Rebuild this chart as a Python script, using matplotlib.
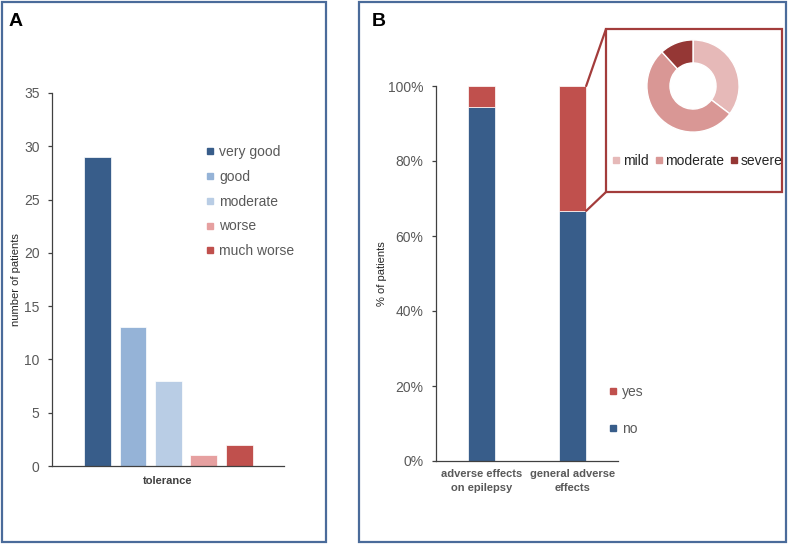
import matplotlib
matplotlib.use("Agg")
import matplotlib.pyplot as plt
from matplotlib.patches import Rectangle, ConnectionPatch
from matplotlib.lines import Line2D
from matplotlib.ticker import PercentFormatter

plt.rcParams['font.family'] = ['Liberation Sans', 'DejaVu Sans']

# ---- data ----
tol_categories = ["very good", "good", "moderate", "worse", "much worse"]
tol_values = [29, 13, 8, 1, 2]
tol_colors = ["#385d8a", "#95b3d7", "#b9cde5", "#e6a0a0", "#c0504d"]

ae_categories = ["adverse effects\non epilepsy", "general adverse\neffects"]
ae_no = [94.4, 66.7]
ae_yes = [5.6, 33.3]

sev_labels = ["mild", "moderate", "severe"]
sev_values = [6, 9, 2]
sev_colors = ["#e6b9b8", "#d99795", "#953735"]

W, H = 789, 545
fig = plt.figure(figsize=(W / 100, H / 100), dpi=100)


def fx(px):
    return px / W


def fy(py):
    return 1 - py / H


def axes_px(l, t, r, b):
    return fig.add_axes([fx(l), fy(b), (r - l) / W, (b - t) / H])


frame_col = "#4a6b9a"
fig.patches.append(Rectangle((fx(2), fy(542)), (326 - 2) / W, (542 - 2) / H,
                             transform=fig.transFigure, fill=False,
                             edgecolor=frame_col, linewidth=1.6))
fig.patches.append(Rectangle((fx(359), fy(542)), (786 - 359) / W, (542 - 2) / H,
                             transform=fig.transFigure, fill=False,
                             edgecolor=frame_col, linewidth=1.6))

tick_col = "#595959"
axis_col = "#404040"

# ---- Panel A ----
aL, aT, aR, aB = 52, 93, 284, 466
axA = axes_px(aL, aT, aR, aB)
xs = list(range(len(tol_values)))
axA.bar(xs, tol_values, width=0.76, color=tol_colors, edgecolor="white", linewidth=0.5)
axA.set_xlim(-1.29, 5.27)
axA.set_ylim(0, 35)
axA.set_yticks(range(0, 36, 5))
axA.set_xticks([])
for s in ["top", "right"]:
    axA.spines[s].set_visible(False)
for s in ["left", "bottom"]:
    axA.spines[s].set_color(axis_col)
    axA.spines[s].set_linewidth(0.9)
axA.tick_params(axis="y", direction="out", length=3, width=0.9, color=axis_col,
                labelcolor=tick_col, labelsize=10, pad=6)
axA.set_ylabel("number of patients", fontsize=8, color="#262626")
axA.yaxis.set_label_coords((21 - aL) / (aR - aL), 0.5)
axA.set_xlabel("tolerance", fontsize=8, fontweight="bold", color="#404040", labelpad=7)
handlesA = [Line2D([], [], marker="s", linestyle="none", markersize=5,
                   markerfacecolor=c, markeredgecolor=c) for c in tol_colors]
legA = fig.legend(handlesA, tol_categories, loc="upper left",
                  bbox_to_anchor=(fx(206), fy(145)), frameon=False, fontsize=10,
                  handlelength=0.6, handletextpad=0.35, labelspacing=0.78,
                  borderaxespad=0, borderpad=0)
for t in legA.get_texts():
    t.set_color(tick_col)
fig.text(fx(9), fy(21), "A", fontsize=14, fontweight="bold", ha="left", va="center")

# ---- Panel B ----
bL, bT, bR, bB = 436, 86, 618, 461
axB = axes_px(bL, bT, bR, bB)
xb = list(range(len(ae_categories)))
no_frac = [v / 100 for v in ae_no]
yes_frac = [v / 100 for v in ae_yes]
bw = 0.3
axB.bar(xb, no_frac, width=bw, color="#385d8a", edgecolor="white", linewidth=0.5, label="no")
axB.bar(xb, yes_frac, width=bw, bottom=no_frac, color="#c0504d", edgecolor="white",
        linewidth=0.5, label="yes")
axB.set_xlim(-0.5, 1.5)
axB.set_ylim(0, 1)
axB.set_yticks([0, 0.2, 0.4, 0.6, 0.8, 1.0])
axB.yaxis.set_major_formatter(PercentFormatter(1.0, decimals=0))
axB.set_xticks(xb)
axB.set_xticklabels(ae_categories, fontsize=8, fontweight="bold", color=tick_col,
                    linespacing=1.45)
axB.tick_params(axis="x", length=0, pad=6)
for s in ["top", "right"]:
    axB.spines[s].set_visible(False)
for s in ["left", "bottom"]:
    axB.spines[s].set_color(axis_col)
    axB.spines[s].set_linewidth(0.9)
axB.tick_params(axis="y", direction="out", length=3, width=0.9, color=axis_col,
                labelcolor=tick_col, labelsize=10, pad=6)
axB.set_ylabel("% of patients", fontsize=8, color="#262626")
axB.yaxis.set_label_coords((387 - bL) / (bR - bL), 0.5)
handlesB = [Line2D([], [], marker="s", linestyle="none", markersize=5,
                   markerfacecolor=c, markeredgecolor=c) for c in ["#c0504d", "#385d8a"]]
legB = fig.legend(handlesB, ["yes", "no"], loc="upper left",
                  bbox_to_anchor=(fx(609), fy(385)), frameon=False, fontsize=10,
                  handlelength=0.6, handletextpad=0.35, labelspacing=1.65,
                  borderaxespad=0, borderpad=0)
for t in legB.get_texts():
    t.set_color(tick_col)
fig.text(fx(372), fy(21), "B", fontsize=14, fontweight="bold", ha="left", va="center")

# ---- inset box ----
box_col = "#a33c3b"
box_l, box_t, box_r, box_b = 606, 29, 782, 192
fig.patches.append(Rectangle((fx(box_l), fy(box_b)), (box_r - box_l) / W, (box_b - box_t) / H,
                             transform=fig.transFigure, fill=False,
                             edgecolor=box_col, linewidth=1.6, zorder=5))
bar_right = xb[1] + bw / 2
for ydata, ypx in [(no_frac[1] + yes_frac[1], box_t), (no_frac[1], box_b)]:
    con = ConnectionPatch(xyA=(bar_right, ydata), coordsA=axB.transData,
                          xyB=(fx(box_l), fy(ypx)), coordsB=fig.transFigure,
                          color=box_col, linewidth=1.6)
    fig.add_artist(con)

# donut
cx, cy, r = 693, 86, 47
axD = axes_px(cx - r, cy - r, cx + r, cy + r)
axD.pie(sev_values, colors=sev_colors, startangle=90, counterclock=False,
        radius=1.0, wedgeprops=dict(width=0.5, edgecolor="white", linewidth=1.0))
axD.set_xlim(-1.02, 1.02)
axD.set_ylim(-1.02, 1.02)
axD.set_aspect("equal")
axD.axis("off")
handlesD = [Line2D([], [], marker="s", linestyle="none", markersize=5,
                   markerfacecolor=c, markeredgecolor=c) for c in sev_colors]
legD = fig.legend(handlesD, sev_labels, loc="center left",
                  bbox_to_anchor=(fx(613), fy(161)), frameon=False, fontsize=10, ncol=3,
                  handlelength=0.5, handletextpad=0.2, columnspacing=0.5,
                  borderaxespad=0, borderpad=0)
for t in legD.get_texts():
    t.set_color("#262626")

fig.savefig("out.png", dpi=100)
